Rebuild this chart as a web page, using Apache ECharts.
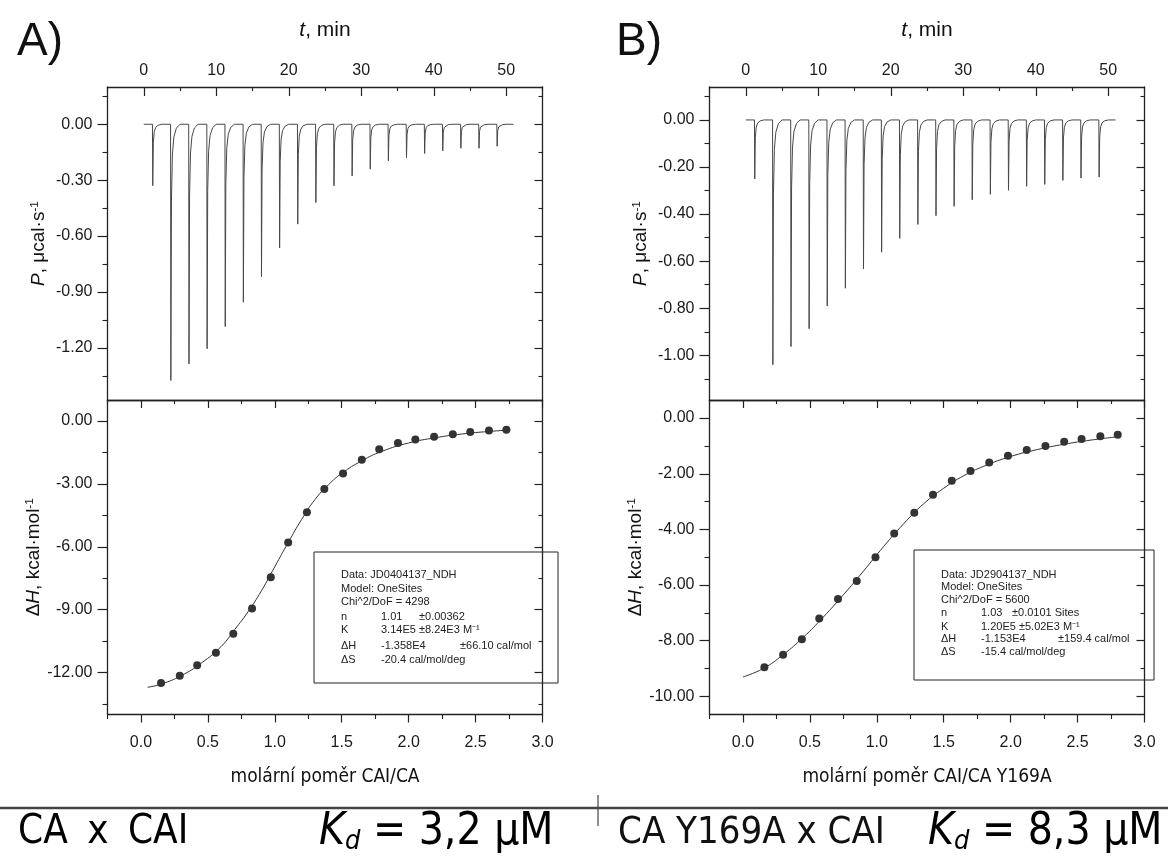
<!DOCTYPE html>
<html><head><meta charset="utf-8">
<script src="https://cdn.jsdelivr.net/npm/echarts@6/dist/echarts.min.js"></script>
<style>html,body{margin:0;padding:0;background:#fff}#c{width:1168px;height:857px}</style>
</head><body><div id="c"></div>
<script>
// ---------- data ----------
const injTimes = [1.2,3.7,6.2,8.7,11.2,13.7,16.2,18.7,21.2,23.7,26.2,28.7,31.2,33.7,36.2,38.7,41.2,43.7,46.2,48.7];
const peakDepthA = [-0.33,-1.375,-1.286,-1.205,-1.086,-0.955,-0.818,-0.664,-0.536,-0.420,-0.330,-0.277,-0.241,-0.196,-0.179,-0.157,-0.143,-0.129,-0.129,-0.118];
const peakDepthB = [-0.251,-1.040,-0.963,-0.887,-0.791,-0.715,-0.633,-0.562,-0.503,-0.444,-0.407,-0.367,-0.339,-0.316,-0.299,-0.282,-0.274,-0.257,-0.247,-0.243];
const baselineSpan = [0, 51];
const peakShapeDt = [0, 0.04, 0.12, 0.25, 0.45, 0.8, 1.3];
const peakShapeFrac = [0, 1, 0.3, 0.12, 0.05, 0.015, 0];

const ratioA = [0.15,0.29,0.42,0.56,0.69,0.83,0.97,1.10,1.24,1.37,1.51,1.65,1.78,1.92,2.05,2.19,2.33,2.46,2.60,2.73];
const heatA  = [-12.5,-12.15,-11.65,-11.05,-10.15,-8.95,-7.45,-5.8,-4.35,-3.25,-2.5,-1.85,-1.35,-1.05,-0.88,-0.75,-0.63,-0.53,-0.46,-0.42];
const fitXA = [0.05,0.15,0.3,0.45,0.6,0.7,0.8,0.9,1.0,1.1,1.2,1.3,1.4,1.5,1.65,1.8,2.0,2.2,2.4,2.6,2.76];
const fitYA = [-12.7,-12.55,-12.15,-11.55,-10.75,-9.95,-9.1,-8.1,-6.95,-5.8,-4.7,-3.75,-3.05,-2.5,-1.9,-1.45,-1.05,-0.8,-0.62,-0.5,-0.43];

const ratioB = [0.16,0.30,0.44,0.57,0.71,0.85,0.99,1.13,1.28,1.42,1.56,1.70,1.84,1.98,2.12,2.26,2.40,2.53,2.67,2.80];
const heatB  = [-8.95,-8.5,-7.95,-7.2,-6.5,-5.85,-5.0,-4.15,-3.4,-2.75,-2.25,-1.9,-1.6,-1.35,-1.15,-1.0,-0.85,-0.75,-0.65,-0.6];
const fitXB = [0.0,0.15,0.3,0.45,0.6,0.75,0.9,1.05,1.2,1.35,1.5,1.65,1.8,2.0,2.2,2.4,2.6,2.8];
const fitYB = [-9.3,-9.0,-8.5,-7.88,-7.15,-6.35,-5.5,-4.62,-3.8,-3.08,-2.52,-2.07,-1.73,-1.38,-1.13,-0.94,-0.79,-0.67];

const tMajor = [0,10,20,30,40,50];
const tMinor = [-5,5,15,25,35,45,55];
const rMajor = [0,0.5,1,1.5,2,2.5,3];
const rMinor = [-0.25,0.25,0.75,1.25,1.75,2.25,2.75];
const pAMajor = [0,-0.3,-0.6,-0.9,-1.2];
const pAMinor = [0.15,-0.15,-0.45,-0.75,-1.05,-1.35];
const hAMajor = [0,-3,-6,-9,-12];
const hAMinor = [-1.5,-4.5,-7.5,-10.5,-13.5];
const pBMajor = [0,-0.2,-0.4,-0.6,-0.8,-1.0];
const pBMinor = [0.1,-0.1,-0.3,-0.5,-0.7,-0.9,-1.1];
const hBMajor = [0,-2,-4,-6,-8,-10];
const hBMinor = [-1,-3,-5,-7,-9];

const infoA = [
  ['Data: JD0404137_NDH'], ['Model: OneSites'], ['Chi^2/DoF = 4298'],
  ['n','1.01','±0.00362'], ['K','3.14E5 ±8.24E3 M⁻¹'], ['ΔH','-1.358E4','±66.10 cal/mol'], ['ΔS','-20.4 cal/mol/deg']
];
const infoB = [
  ['Data: JD2904137_NDH'], ['Model: OneSites'], ['Chi^2/DoF = 5600'],
  ['n','1.03','±0.0101 Sites'], ['K','1.20E5 ±5.02E3 M⁻¹'], ['ΔH','-1.153E4','±159.4 cal/mol'], ['ΔS','-15.4 cal/mol/deg']
];

// ---------- build ----------
const AX = '#222';
const FONT = '"Liberation Sans", Arial, sans-serif';
const TFONT = '"DejaVu Sans Condensed", "DejaVu Sans", sans-serif';

function thermogram(times, depths){
  const pts = [[baselineSpan[0], 0]];
  times.forEach((t,i)=>{ peakShapeDt.forEach((dt,k)=>pts.push([t+dt, depths[i]*peakShapeFrac[k]])); });
  pts.push([baselineSpan[1], 0]);
  return pts;
}
const zip = (a,b)=>a.map((v,i)=>[v,b[i]]);

const grids = [
  {left:107.5, top:87, width:435, height:313},
  {left:107.5, top:400, width:435, height:314.5},
  {left:709.5, top:87, width:435, height:313},
  {left:709.5, top:400, width:435, height:314.5}
];
const xAxes = [], yAxes = [];
function axisPair(list, o){
  const base = {type:'value', gridIndex:o.grid, position:o.pos, min:o.min, max:o.max, splitLine:{show:false}};
  list.push(Object.assign({}, base, {
    axisLine:{show:true, onZero:false, lineStyle:{color:AX, width:1.3}},
    axisTick:{show:o.major.length>0, inside:o.inside, length:o.len||8, customValues:o.major, lineStyle:{color:AX, width:1.2}},
    axisLabel:{show:!!o.fmt, customValues:o.major, formatter:o.fmt, color:'#1a1a1a', fontSize:16, fontFamily:FONT, margin:o.margin||9},
    name:o.name||'', nameLocation:'middle', nameGap:o.nameGap||0, nameTextStyle:o.nameStyle||{}
  }));
  const idx = list.length-1;
  list.push(Object.assign({}, base, {
    axisLine:{show:false, onZero:false},
    axisTick:{show:o.minor.length>0, inside:o.inside, length:o.mlen||4, customValues:o.minor, lineStyle:{color:AX, width:1.1}},
    axisLabel:{show:false}
  }));
  return idx;
}
const f0 = v=>String(Math.round(v));
const f1 = v=>v.toFixed(1);
const f2 = v=>v.toFixed(2);
const richName = (size)=>({fontSize:size, fontFamily:FONT, color:'#111',
  rich:{i:{fontStyle:'italic', fontSize:size, fontFamily:FONT, color:'#111'},
        n:{fontSize:size, fontFamily:FONT, color:'#111'},
        s:{fontSize:size*0.62, fontFamily:FONT, color:'#111', verticalAlign:'top', padding:[0,0,8,0]}}});
const bottomName = {fontSize:19, fontFamily:TFONT, color:'#111'};

const panels = [
  {gt:0, gb:1, pMin:-1.48, pMax:0.2, pMaj:pAMajor, pMin2:pAMinor, hMin:-14, hMax:1.0, hMaj:hAMajor, hMin2:hAMinor,
   therm:thermogram(injTimes, peakDepthA), dots:zip(ratioA,heatA), fit:zip(fitXA,fitYA), xname:'molární poměr CAI/CA'},
  {gt:2, gb:3, pMin:-1.19, pMax:0.14, pMaj:pBMajor, pMin2:pBMinor, hMin:-10.65, hMax:0.65, hMaj:hBMajor, hMin2:hBMinor,
   therm:thermogram(injTimes, peakDepthB), dots:zip(ratioB,heatB), fit:zip(fitXB,fitYB), xname:'molární poměr CAI/CA Y169A'}
];
const series = [];
panels.forEach(p=>{
  const xt = axisPair(xAxes, {grid:p.gt, pos:'top', min:-5, max:55, major:tMajor, minor:tMinor, inside:true, len:9, mlen:4,
                              fmt:f0, margin:8, name:'{i|t}{n|, min}', nameGap:46, nameStyle:richName(21)});
  axisPair(xAxes, {grid:p.gt, pos:'bottom', min:-5, max:55, major:[], minor:[], inside:true});
  const yt = axisPair(yAxes, {grid:p.gt, pos:'left', min:p.pMin, max:p.pMax, major:p.pMaj, minor:p.pMin2, inside:false, len:10, mlen:5,
                              fmt:f2, margin:15, name:'{i|P}{n|, μcal·s}{s|-1}', nameGap:59, nameStyle:richName(19)});
  axisPair(yAxes, {grid:p.gt, pos:'right', min:p.pMin, max:p.pMax, major:p.pMaj, minor:p.pMin2, inside:true, len:8, mlen:4});
  const xb = axisPair(xAxes, {grid:p.gb, pos:'bottom', min:-0.25, max:3.0, major:rMajor, minor:rMinor, inside:false, len:8, mlen:4.5,
                              fmt:f1, margin:20, name:p.xname, nameGap:53, nameStyle:bottomName});
  axisPair(xAxes, {grid:p.gb, pos:'top', min:-0.25, max:3.0, major:rMajor, minor:rMinor, inside:true, len:8, mlen:4});
  const yb = axisPair(yAxes, {grid:p.gb, pos:'left', min:p.hMin, max:p.hMax, major:p.hMaj, minor:p.hMin2, inside:false, len:10, mlen:5,
                              fmt:f2, margin:15, name:'{n|Δ}{i|H}{n|, kcal·mol}{s|-1}', nameGap:59, nameStyle:richName(19)});
  axisPair(yAxes, {grid:p.gb, pos:'right', min:p.hMin, max:p.hMax, major:p.hMaj, minor:p.hMin2, inside:true, len:8, mlen:4});
  series.push({type:'line', xAxisIndex:xt, yAxisIndex:yt, data:p.therm, showSymbol:false, silent:true,
               lineStyle:{color:'#484848', width:1}, animation:false});
  series.push({type:'line', xAxisIndex:xb, yAxisIndex:yb, data:p.fit, smooth:true, showSymbol:false,
               lineStyle:{color:'#333', width:1}, animation:false});
  series.push({type:'scatter', xAxisIndex:xb, yAxisIndex:yb, data:p.dots, symbolSize:8,
               itemStyle:{color:'#000'}, animation:false});
});

function infoBox(x, y, w, h, lines, cols, lineY){
  const children = [{type:'rect', shape:{x:0, y:0, width:w, height:h}, style:{fill:'#fff', stroke:'#222', lineWidth:1}}];
  lines.forEach((ln, i)=>{
    ln.forEach((txt, j)=>{
      children.push({type:'text', x:cols[i][j], y:lineY[i], style:{text:txt, fill:'#222', font:'11px '+FONT, textVerticalAlign:'middle', verticalAlign:'middle'}});
    });
  });
  return {type:'group', x:x, y:y, z:100, children:children};
}
const colsA = [[27],[27],[27],[27,67,105],[27,67],[27,67,146],[27,67]];
const colsB = [[27],[27],[27],[27,67,98],[27,67],[27,67,144],[27,67]];
const kdRich = {k:{font:'italic 44px '+TFONT, color:'#111'}, d:{font:'italic 27px '+TFONT, color:'#111', verticalAlign:'bottom', padding:[15,0,0,0]}, t:{font:'44px '+TFONT, color:'#111'}};

const graphics = [
  {type:'text', left:17, top:19, style:{text:'A)', font:'46px '+FONT, fill:'#111'}},
  {type:'text', left:616, top:19, style:{text:'B)', font:'46px '+FONT, fill:'#111'}},
  infoBox(314, 552, 244, 131, infoA, colsA, [23, 37, 50, 65, 78, 94, 108]),
  infoBox(914, 550, 240, 130, infoB, colsB, [25, 37, 50, 63, 77, 89, 102]),
  {type:'line', shape:{x1:0, y1:808, x2:1168, y2:808}, style:{stroke:'#444', lineWidth:2.5}},
  {type:'line', shape:{x1:598, y1:795, x2:598, y2:826}, style:{stroke:'#444', lineWidth:1.2}},
  {type:'text', x:18, y:833, style:{text:'{a|CA }{x|x}{a| CAI}', verticalAlign:'middle', textVerticalAlign:'middle',
     rich:{a:{font:'40px '+TFONT, color:'#111'}, x:{font:'40px '+TFONT, color:'#111', padding:[0,8,0,8]}}}},
  {type:'text', x:319, y:833, style:{text:'{k|K}{d|d}{t| = 3,2 μM}', verticalAlign:'middle', textVerticalAlign:'middle', rich:kdRich}},
  {type:'text', x:618, y:833, style:{text:'CA Y169A x CAI', font:'38px '+TFONT, fill:'#111', textVerticalAlign:'middle', verticalAlign:'middle'}},
  {type:'text', x:928, y:833, style:{text:'{k|K}{d|d}{t| = 8,3 μM}', verticalAlign:'middle', textVerticalAlign:'middle', rich:kdRich}}
];

const chart = echarts.init(document.getElementById('c'), null, {renderer:'canvas'});
chart.setOption({
  animation:false,
  backgroundColor:'#fff',
  grid:grids,
  xAxis:xAxes,
  yAxis:yAxes,
  series:series,
  graphic:graphics
});
</script></body></html>
